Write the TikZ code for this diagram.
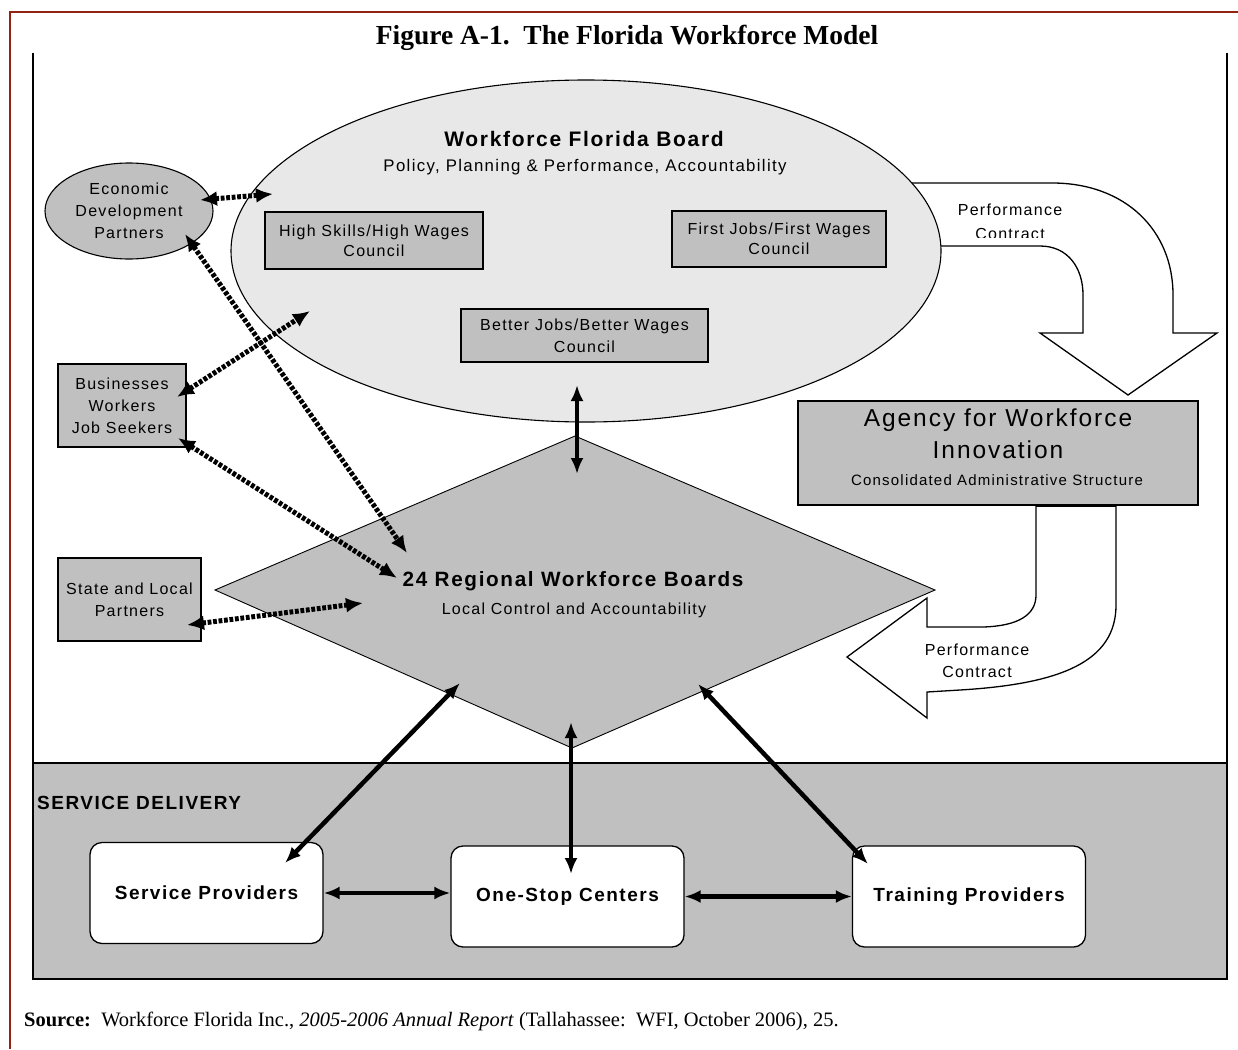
\documentclass[tikz,border=0pt]{standalone}
\usepackage{fontspec}
\setmainfont{Liberation Serif}
\newfontfamily\arf[LetterSpace=8]{Liberation Sans}
\usetikzlibrary{shapes.geometric,arrows.meta,calc}
\definecolor{framered}{RGB}{145,35,20}
\definecolor{bgray}{RGB}{192,192,192}
\definecolor{lgray}{RGB}{232,232,232}
\newcommand{\fz}[2]{\fontsize{#1}{#2}\selectfont}
\begin{document}
\begin{tikzpicture}[x=1pt,y=-1pt,
  bx/.style={draw=black, fill=bgray, line width=1.3pt, inner sep=0pt, align=center},
  rbox/.style={draw=black, fill=white, line width=1.3pt, rounded corners=12pt, minimum width=233pt, minimum height=101pt, inner sep=0pt, align=center, font={\arf\bfseries\fz{19}{24}}},
  dotar/.style={line width=5pt, dash pattern=on 3.8pt off 1.7pt, {Latex[length=17pt,width=15pt]}-{Latex[length=17pt,width=15pt]}},
  solar/.style={line width=4.5pt, {Latex[length=16pt,width=13pt]}-{Latex[length=16pt,width=13pt]}},
  txt/.style={inner sep=0pt, align=center}
]
\useasboundingbox (0,0) rectangle (1238,1049);
% outer frame
\draw[framered, line width=2.5pt] (10,1049) -- (10,12) -- (1238,12);
\node[txt, font={\bfseries\fz{27.5}{30}}] (title) at (627,38) {Figure A-1.\ \ The Florida Workforce Model};
% inner frame
\draw[line width=1.3pt] (33,53) -- (33,763);
\draw[line width=1.3pt] (1227,53) -- (1227,763);
\draw[fill=bgray, line width=1.3pt] (33,763) rectangle (1227,979);
\draw[line width=2.5pt] (33,763) -- (1227,763);
\node[txt, anchor=west, font={\arf\bfseries\fz{19}{22}}] (sd) at (37,803) {SERVICE DELIVERY};
% diamond
\draw[fill=bgray, line width=0.9pt] (215,590) coordinate (dl) -- (575,436) coordinate (dt) -- (935,590) coordinate (dr) -- (572,748) coordinate (db) -- cycle;
\node[txt, font={\arf\bfseries\fz{20.7}{26}}] (rwb) at (573,581) {24 Regional Workforce Boards};
\node[txt, font={\arf\fz{16}{20}}] (rwbsub) at (574,610) {Local Control and Accountability};
% top curved arrow
\draw[fill=white, line width=1.3pt] (880,183) -- (1052,183) .. controls (1125,183) and (1173,230) .. (1173,295) -- (1173,333) -- (1217,333) -- (1128,395) -- (1040,333) -- (1083,333) -- (1083,295) .. controls (1083,268) and (1068,246) .. (1040,246) -- (880,246) -- cycle;
\begin{scope}
\clip (940,190) rectangle (1100,237);
\node[txt, font={\arf\fz{16}{24}}] (pc1) at (1010,222) {Performance\\Contract};
\end{scope}
% Workforce Florida Board ellipse
\node[ellipse, draw=black, fill=lgray, line width=1.1pt, minimum width=710pt, minimum height=342pt, inner sep=0pt] (wfb) at (586,251) {};
\node[txt, font={\arf\bfseries\fz{21}{26}}] (wfbt) at (584,139) {Workforce Florida Board};
\node[txt, font={\arf\fz{16.8}{20}}] (wfbs) at (585,167) {Policy, Planning \& Performance, Accountability};
\node[bx, minimum width=218pt, minimum height=57pt, font={\arf\fz{16}{20}}] (hs) at (374,240.5) {High Skills/High Wages\\Council};
\node[bx, minimum width=214pt, minimum height=56pt, font={\arf\fz{16}{20}}] (fj) at (779,239) {First Jobs/First Wages\\Council};
\node[bx, minimum width=247pt, minimum height=53pt, font={\arf\fz{16}{22}}] (bj) at (584.5,335.5) {Better Jobs/Better Wages\\Council};
% left side actors
\node[ellipse, draw=black, fill=bgray, line width=1.1pt, minimum width=168pt, minimum height=96pt, inner sep=0pt, align=center, font={\arf\fz{16}{22}}] (econ) at (129,211) {Economic\\Development\\Partners};
\node[bx, minimum width=128pt, minimum height=83pt, font={\arf\fz{16}{22}}] (bus) at (122,405.5) {Businesses\\Workers\\Job Seekers};
\node[bx, minimum width=143pt, minimum height=83pt, font={\arf\fz{16}{22}}] (slp) at (129.5,599.5) {State and Local\\Partners};
% agency
\node[bx, minimum width=400pt, minimum height=104pt] (afwi) at (998,453) {};
\node[txt, font={\arf\fz{24.5}{32}}] (afwit) at (998,434) {Agency for Workforce\\Innovation};
\node[txt, font={\arf\fz{15}{18}}] (afwis) at (997,480) {Consolidated Administrative Structure};
% bottom curved arrow
\draw[fill=white, line width=1.3pt] (1116,506) -- (1116,605) .. controls (1116,662) and (1060,684) .. (960,690) -- (927,692) -- (927,718) -- (847,657) -- (927,598) -- (927,627) -- (983,627) .. controls (1018,626) and (1036,615) .. (1036,595) -- (1036,506);
\draw[line width=3pt] (1036,505) -- (1116,505);
\node[txt, fill=white, inner sep=1pt, font={\arf\fz{16}{22}}] (pc2) at (977,661) {Performance\\Contract};
% service boxes
\node[rbox] (sp) at (206.5,893) {Service Providers};
\node[rbox] (os) at (567.5,896.5) {One-Stop Centers};
\node[rbox] (tp) at (969,896.5) {Training Providers};
% connector end points
\coordinate (e1) at (200,200); \coordinate (w1) at (273,194);
\coordinate (e2) at (185,234); \coordinate (r2) at (407,553);
\coordinate (b3) at (177,397); \coordinate (w3) at (310,311);
\coordinate (b4) at (178,438); \coordinate (r4) at (397,578);
\coordinate (s5) at (187,625); \coordinate (r5) at (363,603);
\coordinate (wb) at (577,385); \coordinate (rt) at (577,474);
\coordinate (rl) at (460,683); \coordinate (spt) at (285,863);
\coordinate (rb) at (571,722); \coordinate (ost) at (571,874);
\coordinate (rr) at (698,684); \coordinate (tpt) at (868,864);
% dotted connectors
\draw[dotar] (e1) -- (w1);
\draw[dotar] (e2) -- (r2);
\draw[dotar] (b3) -- (w3);
\draw[dotar] (b4) -- (r4);
\draw[dotar] (s5) -- (r5);
% solid connectors
\draw[solar] (wb) -- (rt);
\draw[solar] (rl) -- (spt);
\draw[solar] (rb) -- (ost);
\draw[solar] (rr) -- (tpt);
\draw[solar] (sp.east) -- (sp.east -| os.west);
\draw[solar] (os.east) -- (tp.west);
% source
\node[txt, anchor=base west, font={\fz{20.5}{24}}] (src) at (24,1026) {\textbf{Source:}\ \ Workforce Florida Inc., \textit{2005-2006 Annual Report} (Tallahassee:\ \ WFI, October 2006), 25.};
\end{tikzpicture}
\end{document}
